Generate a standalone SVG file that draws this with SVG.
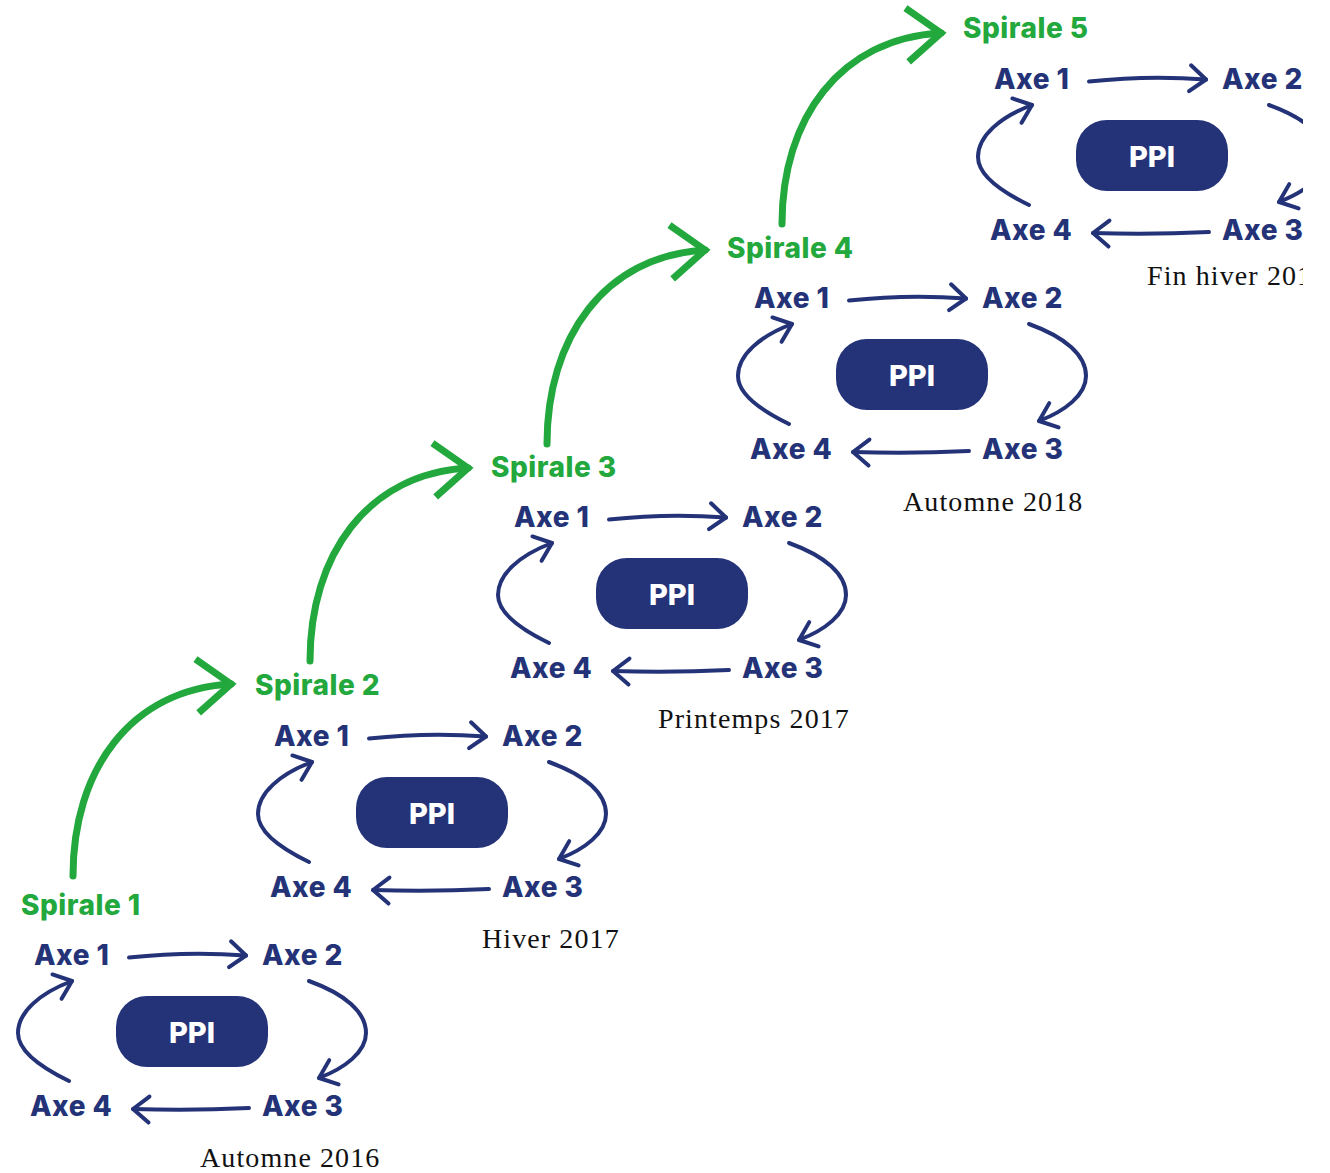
<svg xmlns="http://www.w3.org/2000/svg" width="1330" height="1173" viewBox="0 0 1330 1173">
<style>
.axe{font-family:Inter,"Noto Sans","Liberation Sans",sans-serif;font-weight:800;font-size:28px;fill:#243378;letter-spacing:0.5px}
.sp{font-family:Inter,"Noto Sans","Liberation Sans",sans-serif;font-weight:800;font-size:28px;fill:#22a83c;letter-spacing:0.5px}
.ppi-t{font-family:Inter,"Noto Sans","Liberation Sans",sans-serif;font-weight:800;font-size:29px;fill:#ffffff}
.ppi-r{fill:#243378}
.date{font-family:"Liberation Serif",serif;font-size:28px;fill:#111111;letter-spacing:1.1px}
.nav{fill:none;stroke:#243378;stroke-width:4;stroke-linecap:round}
.grn{fill:none;stroke:#22a83c;stroke-width:7;stroke-linecap:round}
</style>
<defs>
<clipPath id="clip"><rect x="0" y="0" width="1303" height="1173"/></clipPath>
<marker id="ah" markerUnits="userSpaceOnUse" orient="auto" markerWidth="40" markerHeight="40" refX="0" refY="0" viewBox="-20 -20 40 40" overflow="visible">
<path d="M-16,-13 L0,0 L-16,13" fill="none" stroke="#243378" stroke-width="4" stroke-linecap="round" stroke-linejoin="round"/>
</marker>
<marker id="gh" markerUnits="userSpaceOnUse" orient="auto" markerWidth="80" markerHeight="80" refX="0" refY="0" viewBox="-40 -40 80 80" overflow="visible">
<path d="M-34,-27 L0,0 L-34,27" fill="none" stroke="#22a83c" stroke-width="7" stroke-linecap="butt" stroke-linejoin="miter"/>
</marker>
</defs>
<rect width="1330" height="1173" fill="#ffffff"/>
<g clip-path="url(#clip)">

<g id="connectors">
  <g id="growth-arrows">
    <path class="grn" marker-end="url(#gh)" d="M73,876 C73,770 130,690 231,684"/>
    <path class="grn" marker-end="url(#gh)" d="M310,661 C310,555 367,474 468,468"/>
    <path class="grn" marker-end="url(#gh)" d="M547,444 C547,338 604,256 705,250"/>
    <path class="grn" marker-end="url(#gh)" d="M782,224 C782,118 840,39 941,33"/>
  </g>
  <g id="cycle1">
    <path class="nav" marker-end="url(#ah)" d="M129,957.5 Q188,951 246,955.5"/>
    <path class="nav" marker-end="url(#ah)" d="M309,981 C345,994 366,1012 366,1033 C366,1052 345,1068 319,1078"/>
    <path class="nav" marker-end="url(#ah)" d="M249,1108 Q190,1111 133,1109"/>
    <path class="nav" marker-end="url(#ah)" d="M69,1081 C38,1066 18,1050 18,1033 C18,1012 40,993 72,981"/>
  </g>
  <g id="cycle2" transform="translate(240,-219)">
    <path class="nav" marker-end="url(#ah)" d="M129,957.5 Q188,951 246,955.5"/>
    <path class="nav" marker-end="url(#ah)" d="M309,981 C345,994 366,1012 366,1033 C366,1052 345,1068 319,1078"/>
    <path class="nav" marker-end="url(#ah)" d="M249,1108 Q190,1111 133,1109"/>
    <path class="nav" marker-end="url(#ah)" d="M69,1081 C38,1066 18,1050 18,1033 C18,1012 40,993 72,981"/>
  </g>
  <g id="cycle3" transform="translate(480,-438)">
    <path class="nav" marker-end="url(#ah)" d="M129,957.5 Q188,951 246,955.5"/>
    <path class="nav" marker-end="url(#ah)" d="M309,981 C345,994 366,1012 366,1033 C366,1052 345,1068 319,1078"/>
    <path class="nav" marker-end="url(#ah)" d="M249,1108 Q190,1111 133,1109"/>
    <path class="nav" marker-end="url(#ah)" d="M69,1081 C38,1066 18,1050 18,1033 C18,1012 40,993 72,981"/>
  </g>
  <g id="cycle4" transform="translate(720,-657)">
    <path class="nav" marker-end="url(#ah)" d="M129,957.5 Q188,951 246,955.5"/>
    <path class="nav" marker-end="url(#ah)" d="M309,981 C345,994 366,1012 366,1033 C366,1052 345,1068 319,1078"/>
    <path class="nav" marker-end="url(#ah)" d="M249,1108 Q190,1111 133,1109"/>
    <path class="nav" marker-end="url(#ah)" d="M69,1081 C38,1066 18,1050 18,1033 C18,1012 40,993 72,981"/>
  </g>
  <g id="cycle5" transform="translate(960,-876)">
    <path class="nav" marker-end="url(#ah)" d="M129,957.5 Q188,951 246,955.5"/>
    <path class="nav" marker-end="url(#ah)" d="M309,981 C345,994 366,1012 366,1033 C366,1052 345,1068 319,1078"/>
    <path class="nav" marker-end="url(#ah)" d="M249,1108 Q190,1111 133,1109"/>
    <path class="nav" marker-end="url(#ah)" d="M69,1081 C38,1066 18,1050 18,1033 C18,1012 40,993 72,981"/>
  </g>
</g>

<g id="spirale-labels">
  <g id="spirale1"><text class="sp" x="21" y="915">Spirale 1</text></g>
  <g id="spirale2"><text class="sp" x="255" y="695">Spirale 2</text></g>
  <g id="spirale3"><text class="sp" x="491" y="477">Spirale 3</text></g>
  <g id="spirale4"><text class="sp" x="727" y="258">Spirale 4</text></g>
  <g id="spirale5"><text class="sp" x="963" y="38">Spirale 5</text></g>
</g>

<g id="s1">
  <g id="s1-axe1"><text class="axe" x="34" y="965">Axe 1</text></g>
  <g id="s1-axe2"><text class="axe" x="262" y="965">Axe 2</text></g>
  <g id="s1-axe3"><text class="axe" x="262" y="1116">Axe 3</text></g>
  <g id="s1-axe4"><text class="axe" x="30" y="1116">Axe 4</text></g>
  <g id="s1-ppi"><rect class="ppi-r" x="116" y="996" width="152" height="71" rx="31"/><text class="ppi-t" x="192" y="1043" text-anchor="middle">PPI</text></g>
</g>
<g id="s2" transform="translate(240,-219)">
  <g id="s2-axe1"><text class="axe" x="34" y="965">Axe 1</text></g>
  <g id="s2-axe2"><text class="axe" x="262" y="965">Axe 2</text></g>
  <g id="s2-axe3"><text class="axe" x="262" y="1116">Axe 3</text></g>
  <g id="s2-axe4"><text class="axe" x="30" y="1116">Axe 4</text></g>
  <g id="s2-ppi"><rect class="ppi-r" x="116" y="996" width="152" height="71" rx="31"/><text class="ppi-t" x="192" y="1043" text-anchor="middle">PPI</text></g>
</g>
<g id="s3" transform="translate(480,-438)">
  <g id="s3-axe1"><text class="axe" x="34" y="965">Axe 1</text></g>
  <g id="s3-axe2"><text class="axe" x="262" y="965">Axe 2</text></g>
  <g id="s3-axe3"><text class="axe" x="262" y="1116">Axe 3</text></g>
  <g id="s3-axe4"><text class="axe" x="30" y="1116">Axe 4</text></g>
  <g id="s3-ppi"><rect class="ppi-r" x="116" y="996" width="152" height="71" rx="31"/><text class="ppi-t" x="192" y="1043" text-anchor="middle">PPI</text></g>
</g>
<g id="s4" transform="translate(720,-657)">
  <g id="s4-axe1"><text class="axe" x="34" y="965">Axe 1</text></g>
  <g id="s4-axe2"><text class="axe" x="262" y="965">Axe 2</text></g>
  <g id="s4-axe3"><text class="axe" x="262" y="1116">Axe 3</text></g>
  <g id="s4-axe4"><text class="axe" x="30" y="1116">Axe 4</text></g>
  <g id="s4-ppi"><rect class="ppi-r" x="116" y="996" width="152" height="71" rx="31"/><text class="ppi-t" x="192" y="1043" text-anchor="middle">PPI</text></g>
</g>
<g id="s5" transform="translate(960,-876)">
  <g id="s5-axe1"><text class="axe" x="34" y="965">Axe 1</text></g>
  <g id="s5-axe2"><text class="axe" x="262" y="965">Axe 2</text></g>
  <g id="s5-axe3"><text class="axe" x="262" y="1116">Axe 3</text></g>
  <g id="s5-axe4"><text class="axe" x="30" y="1116">Axe 4</text></g>
  <g id="s5-ppi"><rect class="ppi-r" x="116" y="996" width="152" height="71" rx="31"/><text class="ppi-t" x="192" y="1043" text-anchor="middle">PPI</text></g>
</g>

<g id="dates">
  <g id="date1"><text class="date" x="200" y="1167">Automne 2016</text></g>
  <g id="date2"><text class="date" x="482" y="948">Hiver 2017</text></g>
  <g id="date3"><text class="date" x="658" y="728">Printemps 2017</text></g>
  <g id="date4"><text class="date" x="903" y="511">Automne 2018</text></g>
  <g id="date5"><text class="date" x="1147" y="285">Fin hiver 201</text></g>
</g>
</g>
</svg>
